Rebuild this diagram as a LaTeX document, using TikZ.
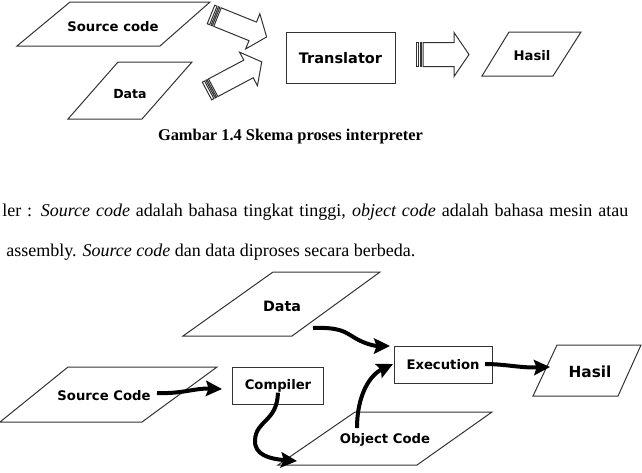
\documentclass[tikz,border=0pt]{standalone}
\usepackage{fontspec}
\setmainfont{Liberation Serif}
\newfontfamily\vfont{DejaVu Sans}
\usetikzlibrary{arrows.meta}
\tikzset{
  shapeline/.style={draw=black!80, line width=0.75pt},
  lbl/.style={font=\vfont\bfseries\fontsize{9.9}{12}\selectfont, inner sep=0pt},
  flow/.style={line width=3pt, -{Stealth[length=12pt,width=11.5pt,inset=2pt]}},
  captext/.style={font=\bfseries\fontsize{12.3}{14}\selectfont, inner sep=0pt},
  bodytext/.style={font=\fontsize{13.5}{16}\selectfont, inner sep=0pt},
}
% #1,#2 tail position, #3 angle, #4 length, #5 body half width, #6 head half width
\newcommand{\blockarrow}[6]{%
  \begin{scope}[shift={(#1,#2)},rotate=#3]
    \draw[shapeline] (0,-#5) rectangle (2.5,#5);
    \draw[shapeline] (4,-#5) rectangle (5.5,#5);
    \draw[shapeline] (7,-#5) -- ({#4-15},-#5) -- ({#4-15},-#6) -- (#4,0)
      -- ({#4-15},#6) -- ({#4-15},#5) -- (7,#5) -- cycle;
  \end{scope}}
\begin{document}
\begin{tikzpicture}[x=0.75pt,y=-0.75pt]
\useasboundingbox (0,0) rectangle (642,472);

% ---------- top diagram ----------
\draw[shapeline] (70,2) -- (210,2) -- (160,46) -- (17,46) -- cycle;
\node[lbl] (src1) at (113,27) {Source code};
\draw[shapeline] (118,62) -- (192,62) -- (142,119) -- (68,119) -- cycle;
\node[lbl, font=\vfont\bfseries\fontsize{9.4}{12}\selectfont] (data1) at (130,94) {Data};
\draw[shapeline] (286,32) rectangle (395,83);
\node[lbl, font=\vfont\bfseries\fontsize{10.9}{13}\selectfont] (trans) at (340.5,58) {Translator};
\draw[shapeline] (509,32) -- (581,32) -- (553,76) -- (482,76) -- cycle;
\node[lbl] (hasil1) at (532,56) {Hasil};

\blockarrow{211}{14.5}{-22}{60}{10}{19}
\blockarrow{207}{91}{28}{62}{10}{19}
\blockarrow{416}{54.5}{0}{53}{12}{22}

\node[captext, anchor=base] (cap) at (290.5,140) {Gambar 1.4 Skema proses interpreter};

% ---------- body text ----------
\node[bodytext, anchor=base west] (line1) at (2,216) {\makebox[469.5pt][s]{ler : \textit{Source code} adalah bahasa tingkat tinggi, \textit{object code} adalah bahasa mesin atau}};
\node[bodytext, anchor=base west] (line2) at (6,256) {assembly. \textit{Source code} dan data diproses secara berbeda.};

% ---------- bottom diagram ----------
\draw[shapeline] (273,272) -- (380,272) -- (292,336) -- (183,336) -- cycle;
\node[lbl, font=\vfont\bfseries\fontsize{10.7}{13}\selectfont] (data2) at (282,306) {Data};
\draw[shapeline] (68,367) -- (217,367) -- (142,422) -- (0,422) -- cycle;
\node[lbl] (src2) at (104,396) {Source Code};
\draw[shapeline] (232,367) rectangle (323,404);
\node[lbl] (comp) at (278,386) {Compiler};
\draw[shapeline] (394,346) rectangle (492,383);
\node[lbl] (exec) at (443,365) {Execution};
\draw[shapeline] (557,345) -- (641,345) -- (618,396) -- (533,396) -- cycle;
\node[lbl, font=\vfont\bfseries\fontsize{11.5}{14}\selectfont] (hasil2) at (590,372) {Hasil};
\draw[shapeline] (355,412) -- (492,412) -- (417,465) -- (278,465) -- cycle;
\node[lbl] (obj) at (385,440) {Object Code};

\coordinate (s1) at (157,393);
\coordinate (t1) at (222,389);
\coordinate (s2) at (313,328);
\coordinate (t2) at (390,346);
\coordinate (t3) at (297,461);
\coordinate (s4) at (357,428);
\coordinate (t4) at (393,364);
\coordinate (s5) at (485,364);
\coordinate (t5) at (550,367);

\draw[flow] (s1) .. controls (182,394) and (195,388) .. (t1);
\draw[flow] (s2) .. controls (340,327) and (345,332) .. (355,338)
  .. controls (365,344) and (375,346) .. (t2);
\draw[flow] (comp.south) .. controls (277,422) and (256,420) .. (255,440)
  .. controls (254,455) and (270,459) .. (t3);
\draw[flow] (s4) .. controls (357,395) and (370,375) .. (t4);
\draw[flow] (s5) .. controls (505,364) and (520,368) .. (t5);
\end{tikzpicture}
\end{document}
